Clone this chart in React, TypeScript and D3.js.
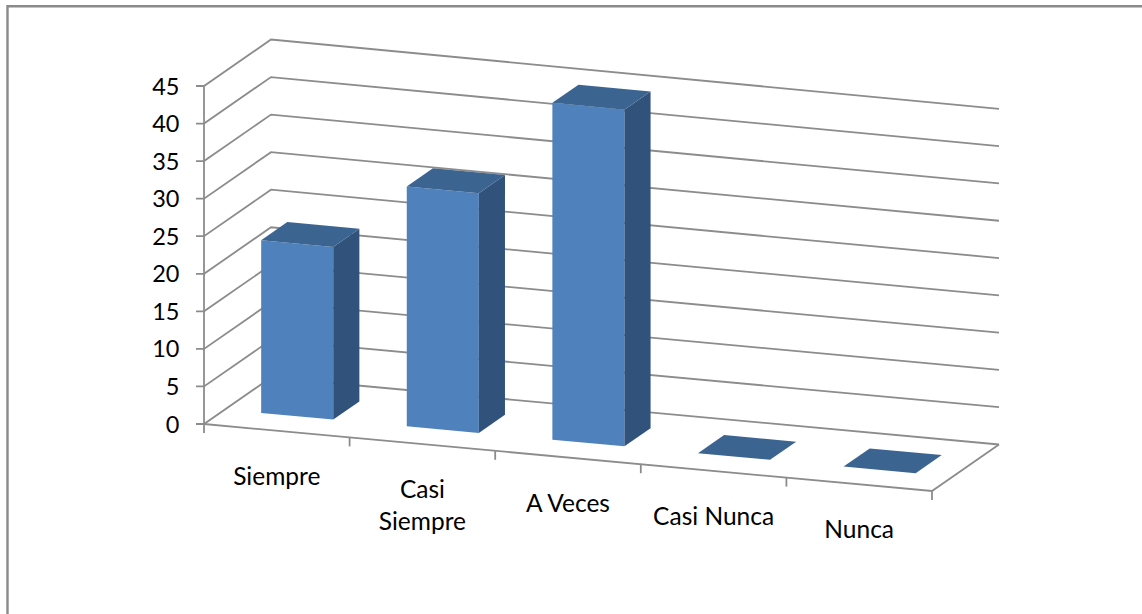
import React from "react";
import * as d3 from "d3";

const categories = [["Siempre"], ["Casi", "Siempre"], ["A Veces"], ["Casi Nunca"], ["Nunca"]];
const values = [23, 32, 45, 0, 0];
const valueTicks = [0, 5, 10, 15, 20, 25, 30, 35, 40, 45];

const FONT = "Lato, 'Noto Sans', sans-serif";
const LINE = "#8c8c8c";
const FRONT = "#4f81bd";
const TOP = "#3c6491";
const SIDE = "#31527a";

// Oblique projection: category position u, depth v, value w
const ux = d3.scaleLinear().domain([0, 5]).range([0, 728]);
const uy = d3.scaleLinear().domain([0, 5]).range([0, 67]);
const vx = d3.scaleLinear().domain([0, 1]).range([0, 67]);
const vy = d3.scaleLinear().domain([0, 1]).range([0, -46.5]);
const wy = d3.scaleLinear().domain([0, 45]).range([0, -338]);
const taper = d3.scaleLinear().domain([0, 5]).range([1, 0.993]);

const P = (u: number, v: number, w: number): [number, number] => [
  204 + ux(u) + vx(v),
  424 + uy(u) + vy(v) + wy(w) * taper(u),
];
const line = d3.line();
const poly = (pts: [number, number][]) => line(pts)! + "Z";

const U0 = 0.25, U1 = 0.745, V0 = 0.31, V1 = 0.7;

export default function App() {
  return (
    <svg
      width={1142}
      height={614}
      style={{ position: "absolute", left: 0, top: 0, background: "#fff" }}
    >
      {/* outer frame */}
      <path d="M7.5,614V6.2H1142" fill="none" stroke="#8a8a8a" strokeWidth={2.4} />

      {/* walls */}
      <g fill="none" stroke={LINE} strokeWidth={1.8}>
        {valueTicks.map((t) => {
          const a = P(0, 0, t), b = P(0, 1, t), c = P(5, 1, t);
          return <path key={t} d={line([[a[0] - 8, a[1]], a, b, c])!} />;
        })}
        <path d={line([P(0, 0, 0), P(0, 0, 45)])!} />
        <path d={line([P(0, 0, 0), P(5, 0, 0), P(5, 1, 0)])!} />
        {d3.range(0, 6).map((u) => {
          const a = P(u, 0, 0);
          return <path key={u} d={line([a, [a[0], a[1] + 9]])!} />;
        })}
      </g>

      {/* bars */}
      {values.map((val, i) => {
        const u0 = i + U0, u1 = i + U1;
        return (
          <g key={i}>
            {val > 0 && (
              <path
                d={poly([P(u0, V0, 0), P(u1, V0, 0), P(u1, V0, val), P(u0, V0, val)])}
                fill={FRONT}
              />
            )}
            {val > 0 && (
              <path
                d={poly([P(u1, V0, 0), P(u1, V1, 0), P(u1, V1, val), P(u1, V0, val)])}
                fill={SIDE}
              />
            )}
            <path
              d={poly([P(u0, V0, val), P(u1, V0, val), P(u1, V1, val), P(u0, V1, val)])}
              fill={TOP}
            />
          </g>
        );
      })}

      {/* value labels */}
      <g fontFamily={FONT} fontSize={23.5} fill="#000" textAnchor="end">
        {valueTicks.map((t) => {
          const a = P(0, 0, t);
          return (
            <text key={t} x={179.5} y={a[1] + 8.5}>
              {t}
            </text>
          );
        })}
      </g>

      {/* category labels */}
      <g fontFamily={FONT} fontSize={24.5} fill="#000" textAnchor="middle">
        {categories.map((lines, i) => {
          const a = P(i + 0.5, 0, 0);
          return (
            <text key={i} x={a[0]} y={a[1] + 54}>
              {lines.map((s, k) => (
                <tspan key={k} x={a[0]} dy={k === 0 ? 0 : 32}>
                  {s}
                </tspan>
              ))}
            </text>
          );
        })}
      </g>
    </svg>
  );
}
